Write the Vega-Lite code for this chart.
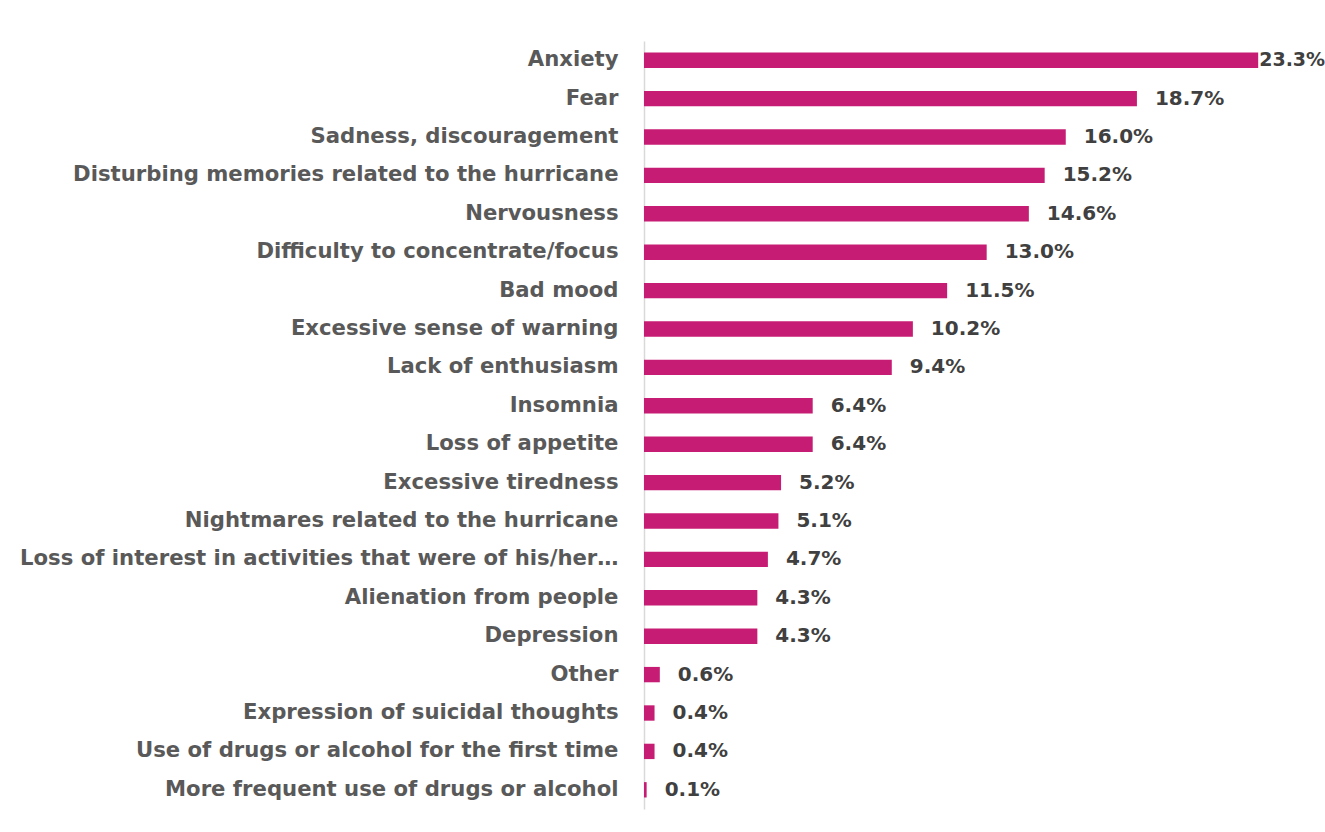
{
  "$schema": "https://vega.github.io/schema/vega-lite/v6.json",
  "autosize": {"type": "none"},
  "padding": {"left": 644, "top": 41, "right": 22, "bottom": 23},
  "width": 659,
  "height": 768,
  "background": "white",
  "config": {"view": {"stroke": null}, "font": "DejaVu Sans"},
  "data": {"values": [
    {"symptom": "Anxiety", "value": 23.3},
    {"symptom": "Fear", "value": 18.7},
    {"symptom": "Sadness, discouragement", "value": 16.0},
    {"symptom": "Disturbing memories related to the hurricane", "value": 15.2},
    {"symptom": "Nervousness", "value": 14.6},
    {"symptom": "Difficulty to concentrate/focus", "value": 13.0},
    {"symptom": "Bad mood", "value": 11.5},
    {"symptom": "Excessive sense of warning", "value": 10.2},
    {"symptom": "Lack of enthusiasm", "value": 9.4},
    {"symptom": "Insomnia", "value": 6.4},
    {"symptom": "Loss of appetite", "value": 6.4},
    {"symptom": "Excessive tiredness", "value": 5.2},
    {"symptom": "Nightmares related to the hurricane", "value": 5.1},
    {"symptom": "Loss of interest in activities that were of his/her…", "value": 4.7},
    {"symptom": "Alienation from people", "value": 4.3},
    {"symptom": "Depression", "value": 4.3},
    {"symptom": "Other", "value": 0.6},
    {"symptom": "Expression of suicidal thoughts", "value": 0.4},
    {"symptom": "Use of drugs or alcohol for the first time", "value": 0.4},
    {"symptom": "More frequent use of drugs or alcohol", "value": 0.1}
  ]},
  "transform": [{"calculate": "format(datum.value, '.1f') + '%'", "as": "lbl"}],
  "encoding": {
    "y": {"field": "symptom", "type": "nominal", "sort": null,
      "scale": {"paddingInner": 0.6, "paddingOuter": 0.3},
      "axis": {"title": null, "ticks": false, "labelPadding": 26, "labelLimit": 700,
        "labelFontSize": 21.2, "labelFontWeight": "bold", "labelColor": "#595959",
        "domainColor": "#d9d9d9", "domainWidth": 1.5}},
    "x": {"field": "value", "type": "quantitative", "scale": {"domain": [0, 25]}, "axis": null}
  },
  "layer": [
    {"mark": {"type": "bar", "color": "#C71C74"}},
    {"transform": [{"filter": "datum.value < 23"}],
     "mark": {"type": "text", "align": "left", "baseline": "middle", "dx": 18, "fontSize": 20, "fontWeight": "bold", "color": "#404040"},
     "encoding": {"text": {"field": "lbl", "type": "nominal"}}},
    {"transform": [{"filter": "datum.value >= 23"}],
     "mark": {"type": "text", "align": "left", "baseline": "middle", "dx": 1, "fontSize": 19, "fontWeight": "bold", "color": "#404040"},
     "encoding": {"text": {"field": "lbl", "type": "nominal"}}}
  ]
}
